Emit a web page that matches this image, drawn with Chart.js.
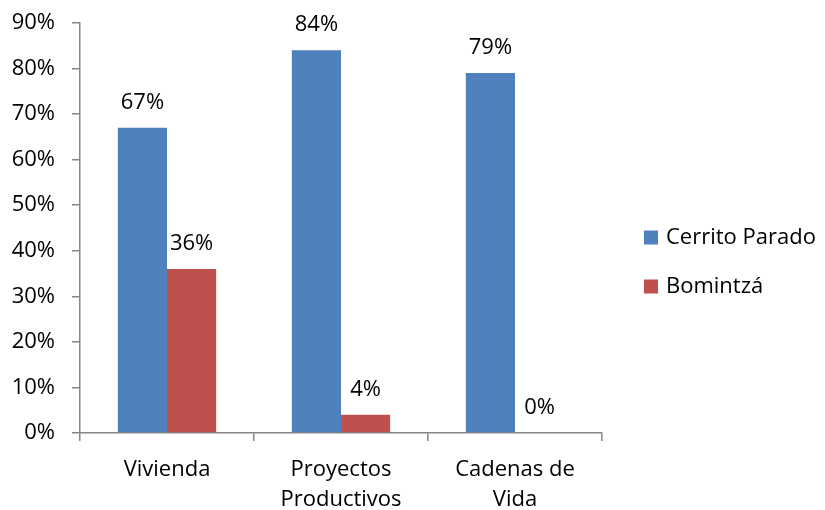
<!DOCTYPE html>
<html>
<head>
<meta charset="utf-8">
<script src="https://cdn.jsdelivr.net/npm/chart.js@4"></script>
<style>
  html, body { margin: 0; padding: 0; background: #fff; }
  #wrap { width: 825px; height: 510px; }
</style>
</head>
<body>
<div id="wrap"><canvas id="myChart" width="825" height="510"></canvas></div>
<script>
// Datos del gráfico
const categorias = [['Vivienda'], ['Proyectos', 'Productivos'], ['Cadenas de', 'Vida']];
const cerritoParado = [67, 84, 79];
const bomintza = [36, 4, 0];
const serieNombres = ['Cerrito Parado', 'Bomintzá'];
const serieColores = ['#4F81BD', '#C0504D'];

const FONT = '"Open Sans", Lato, sans-serif';
const FSIZE = 22;
const AXIS_GRAY = '#868686';

// etiquetas de valor encima de cada barra
const etiquetas = {
    id: 'etiquetas',
    afterDatasetsDraw(chart) {
        const ctx = chart.ctx;
        ctx.save();
        ctx.font = FSIZE + 'px ' + FONT;
        ctx.fillStyle = '#000';
        ctx.textAlign = 'center';
        ctx.textBaseline = 'alphabetic';
        chart.data.datasets.forEach((ds, i) => {
            chart.getDatasetMeta(i).data.forEach((bar, j) => {
                ctx.fillText(ds.data[j] + '%', bar.x, bar.y - 19);
            });
        });
        ctx.restore();
    }
};

// leyenda a la derecha
const leyenda = {
    id: 'leyenda',
    afterDraw(chart) {
        const ctx = chart.ctx;
        const area = chart.chartArea;
        const x0 = area.right + 42;
        const yMid = (area.top + area.bottom) / 2 + 34;
        ctx.save();
        ctx.font = FSIZE + 'px ' + FONT;
        ctx.textBaseline = 'middle';
        ctx.textAlign = 'left';
        chart.data.datasets.forEach((ds, i) => {
            const y = yMid - 24.5 + i * 49;
            ctx.fillStyle = ds.backgroundColor;
            ctx.fillRect(x0, y - 7, 14, 14);
            ctx.fillStyle = '#000';
            ctx.fillText(ds.label, x0 + 22, y);
        });
        ctx.restore();
    }
};

const data = {
    labels: categorias,
    datasets: [
        { label: serieNombres[0], data: cerritoParado, backgroundColor: serieColores[0] },
        { label: serieNombres[1], data: bomintza, backgroundColor: serieColores[1] }
    ]
};

const options = {
    responsive: false,
    animation: false,
    layout: { padding: { top: 23, right: 223, left: 0, bottom: 0 } },
    datasets: { bar: { barPercentage: 1, categoryPercentage: 0.565 } },
    plugins: {
        legend: { display: false },
        tooltip: { enabled: false }
    },
    scales: {
        y: {
            min: 0,
            max: 90,
            ticks: {
                stepSize: 10,
                padding: 17,
                color: '#000',
                font: { family: FONT, size: FSIZE },
                callback: v => v + '%'
            },
            grid: { drawOnChartArea: false, tickLength: 8, color: AXIS_GRAY, lineWidth: 1.5 },
            border: { color: AXIS_GRAY, width: 1.5 },
            afterFit(scale) {
                scale.width = 80;
                scale.paddingTop = 0;
                scale.paddingBottom = 0;
            }
        },
        x: {
            ticks: {
                padding: 13,
                color: '#000',
                font: { family: FONT, size: FSIZE, lineHeight: 1.4 }
            },
            grid: { offset: true, drawOnChartArea: false, tickLength: 8, color: AXIS_GRAY, lineWidth: 1.5 },
            border: { color: AXIS_GRAY, width: 1.5 },
            afterFit(scale) { scale.height = 77; }
        }
    }
};

// Creando el gráfico
const ctx = document.getElementById('myChart').getContext('2d');
const myChart = new Chart(ctx, {
    type: 'bar',
    data: data,
    options: options,
    plugins: [etiquetas, leyenda]
});
</script>
</body>
</html>
